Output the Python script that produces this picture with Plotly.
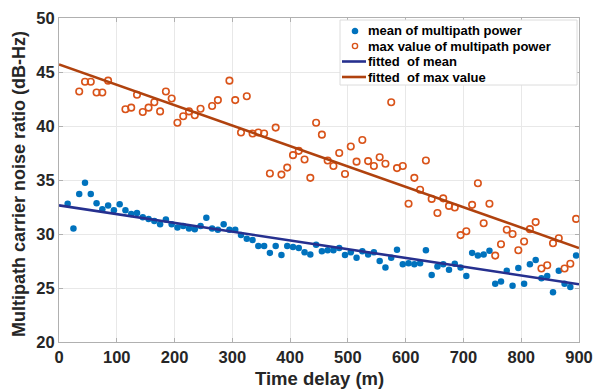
import plotly.graph_objects as go

# Time delay of each multipath sample (m)
delay = [15, 25, 35, 45, 55, 65, 75, 85, 95, 105, 115, 125, 135, 145, 155,
         165, 175, 185, 195, 205, 215, 225, 235, 245, 255, 265, 275, 285, 295,
         305, 315, 325, 335, 345, 355, 365, 375, 385, 395, 405, 415, 425, 435,
         445, 455, 465, 475, 485, 495, 505, 515, 525, 535, 545, 555, 565, 575,
         585, 595, 605, 615, 625, 635, 645, 655, 665, 675, 685, 695, 705, 715,
         725, 735, 745, 755, 765, 775, 785, 795, 805, 815, 825, 835, 845, 855,
         865, 875, 885, 895]

# Mean C/N0 of the multipath signal (dB-Hz)
mean_power = [32.8, 30.5, 33.7, 34.75, 33.7, 32.85, 32.3, 32.65, 32.2, 32.75,
              32.2, 31.85, 31.95, 31.55, 31.4, 31.2, 30.9, 31.35, 30.9, 30.6,
              30.75, 30.5, 30.45, 30.75, 31.5, 30.5, 30.4, 30.9, 30.4, 30.4,
              29.9, 29.55, 29.45, 28.9, 28.9, 28.25, 28.9, 28.05, 28.9, 28.8,
              28.7, 28.3, 28.1, 29.0, 28.4, 28.5, 28.5, 28.7, 28.05, 28.3,
              27.8, 28.4, 28.1, 28.3, 27.5, 26.9, 27.8, 28.55, 27.2, 27.3,
              27.2, 27.3, 28.5, 26.2, 27.0, 27.2, 26.7, 27.25, 26.9, 26.1,
              28.25, 28.0, 28.1, 28.45, 25.4, 25.6, 26.6, 25.2, 26.85, 25.4,
              27.2, 27.6, 25.9, 26.1, 24.6, 26.6, 25.4, 25.1, 28.0]

# Maximum C/N0 of the multipath signal (dB-Hz); None = no value
max_power = [None, None, 43.2, 44.1, 44.1, 43.1, 43.1, 44.2, None, None,
             41.55, 41.7, 42.9, 41.3, 41.7, 42.2, 41.35, 43.2, 42.55, 40.3,
             40.9, 41.35, 41.0, 41.6, None, 41.85, 42.4, None, 44.2, 42.4,
             39.4, 42.75, 39.3, 39.4, 39.3, 35.6, 39.85, 35.5, 36.15, 37.3,
             37.7, 36.9, 35.2, 40.3, 39.2, 36.8, 36.3, 37.5, 35.55, 38.1,
             36.7, 38.7, 36.75, 36.3, 37.1, 36.5, 42.2, 36.1, 36.3, 32.8,
             35.2, 34.1, 36.8, 33.25, 31.95, 33.3, 32.6, 32.45, 29.9, 30.25,
             32.7, 34.7, 31.0, 32.8, 28.0, 29.05, 30.4, 30.0, 28.5, 29.3,
             30.45, 31.1, 26.8, 27.1, 29.15, 29.6, 26.8, 27.25, 31.4]

# Linear fits evaluated at the ends of the delay range
fit_delay = [0, 900]
fit_mean = [32.65, 25.35]
fit_max = [45.7, 28.7]

x_ticks = [0, 100, 200, 300, 400, 500, 600, 700, 800, 900]
y_ticks = [20, 25, 30, 35, 40, 45, 50]

BOLD = "Liberation Sans, Arial, sans-serif"
TXT = "#262626"
BLUE, ORANGE = "#0072BD", "#D95319"
FIT_BLUE, FIT_ORANGE = "#26308F", "#B0420E"

W, H = 595, 392
ML, MR, MT, MB = 59, 16, 18, 50
PW, PH = W - ML - MR, H - MT - MB


def px(xp):
    return (xp - ML) / PW


def py(yp):
    return (H - MB - yp) / PH


fig = go.Figure()
fig.add_trace(go.Scatter(
    x=delay, y=mean_power, mode="markers", name="mean of multipath power",
    marker=dict(symbol="circle", size=6.5, color=BLUE),
))
fig.add_trace(go.Scatter(
    x=delay, y=max_power, mode="markers", name="max value of multipath power",
    marker=dict(symbol="circle-open", size=6.5, color=ORANGE,
                line=dict(width=1.6, color=ORANGE)),
))
fig.add_trace(go.Scatter(
    x=fit_delay, y=fit_mean, mode="lines", name="fitted  of mean",
    line=dict(color=FIT_BLUE, width=2.6),
))
fig.add_trace(go.Scatter(
    x=fit_delay, y=fit_max, mode="lines", name="fitted  of max value",
    line=dict(color=FIT_ORANGE, width=2.6),
))

# Compact legend box drawn in paper coordinates
legend_rows = [
    ("mean of multipath power", "dot", BLUE),
    ("max value of multipath power", "ring", ORANGE),
    ("fitted\u00a0 of mean", "line", FIT_BLUE),
    ("fitted\u00a0 of max value", "line", FIT_ORANGE),
]
shapes = [dict(type="rect", xref="paper", yref="paper",
               x0=px(340), x1=px(577), y0=py(85), y1=py(20),
               fillcolor="white", line=dict(color="#dcdcdc", width=1),
               layer="above")]
annotations = []
row_y = [31, 46, 61.5, 77]
for (label, kind, color), yy in zip(legend_rows, row_y):
    if kind == "line":
        shapes.append(dict(type="line", xref="paper", yref="paper",
                           x0=px(342), x1=px(366), y0=py(yy), y1=py(yy),
                           line=dict(color=color, width=2.6), layer="above"))
    else:
        r = 2.6
        shapes.append(dict(
            type="circle", xref="paper", yref="paper",
            x0=px(355 - r), x1=px(355 + r), y0=py(yy + r), y1=py(yy - r),
            fillcolor=color if kind == "dot" else "white",
            line=dict(color=color, width=1.4), layer="above"))
    annotations.append(dict(
        text="<b>" + label + "</b>", xref="paper", yref="paper",
        x=px(366), y=py(yy), xanchor="left", yanchor="middle",
        showarrow=False, font=dict(family=BOLD, size=13, color="#000000")))

# Axis titles
annotations.append(dict(
    text="<b>Time delay (m)</b>", xref="paper", yref="paper",
    x=0.5, y=py(378), xanchor="center", yanchor="middle", showarrow=False,
    font=dict(family=BOLD, size=18.5, color=TXT)))
annotations.append(dict(
    text="<b>Multipath carrier noise ratio (dB-Hz)</b>", xref="paper",
    yref="paper", x=px(19), y=py(184), xanchor="center", yanchor="middle",
    textangle=-90, showarrow=False,
    font=dict(family=BOLD, size=18, color=TXT)))

axis_common = dict(
    showgrid=True, gridcolor="#e8e8e8", gridwidth=1,
    showline=True, linecolor="#b0b0b0", linewidth=1, mirror="ticks",
    ticks="inside", ticklen=4, tickcolor="#b0b0b0",
    tickfont=dict(family=BOLD, size=16.5, color=TXT, weight="bold"),
    zeroline=False, automargin=False,
)

fig.update_layout(
    width=W, height=H,
    margin=dict(l=ML, r=MR, t=MT, b=MB, autoexpand=False),
    paper_bgcolor="white", plot_bgcolor="white",
    font=dict(family=BOLD, color=TXT),
    showlegend=False,
    shapes=shapes,
    annotations=annotations,
    xaxis=dict(range=[0, 900], tickvals=x_ticks, **axis_common),
    yaxis=dict(range=[20, 50], tickvals=y_ticks, **axis_common),
)

fig.write_html("out.html")
